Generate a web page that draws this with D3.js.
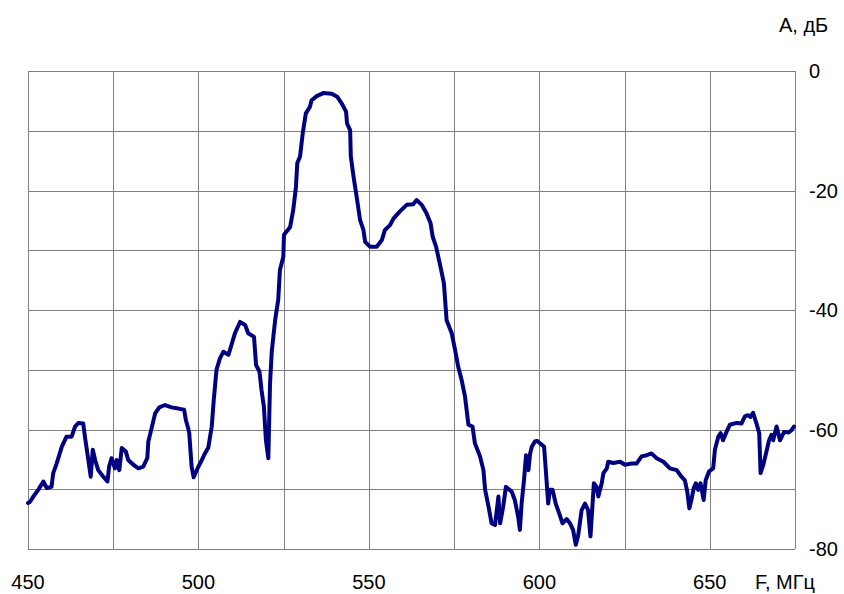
<!DOCTYPE html>
<html>
<head>
<meta charset="utf-8">
<script src="https://cdnjs.cloudflare.com/ajax/libs/d3/7.8.5/d3.min.js"></script>
<style>
  body { margin: 0; background: #fff; }
  svg text { font-family: "Liberation Sans", Arial, sans-serif; fill: #000; }
</style>
</head>
<body>
<svg id="chart"></svg>
<script>
// frequency, MHz
var freq = [450.0, 450.6, 451.6, 453.0, 454.5, 455.5, 456.9, 457.4, 458.4, 459.9, 461.3, 462.8, 463.8, 464.8, 466.2, 466.7,
  467.7, 468.4, 469.0, 469.7, 470.6, 472.1, 473.3, 473.8, 474.5, 475.5, 476.0, 476.8, 477.5, 478.7, 479.4, 480.9,
  482.4, 483.8, 485.0, 485.3, 486.0, 487.3, 488.5, 490.2, 492.1, 494.1, 495.8, 496.3, 497.0, 497.3, 498.0, 498.6,
  500.0, 501.0, 501.9, 502.9, 503.9, 504.5, 505.3, 506.3, 507.3, 508.8, 509.8, 510.7, 512.2, 513.7, 514.6, 516.3,
  516.9, 517.9, 518.5, 519.2, 519.8, 520.5, 521.0, 521.5, 522.5, 523.4, 523.9, 524.9, 525.1, 526.9, 527.8, 528.6,
  529.0, 529.8, 530.6, 531.5, 532.7, 533.2, 534.7, 536.6, 539.1, 540.7, 542.0, 543.3, 543.6, 544.5, 544.7, 545.5,
  546.4, 547.4, 548.4, 548.9, 550.3, 552.3, 553.8, 554.7, 556.2, 557.2, 559.1, 561.1, 563.0, 564.0, 565.5, 566.9,
  568.1, 568.7, 569.7, 570.9, 572.0, 572.8, 574.3, 575.3, 576.2, 577.2, 578.2, 579.2, 580.4, 581.1, 582.6, 583.6,
  584.1, 585.1, 586.0, 587.0, 588.0, 588.5, 589.4, 590.2, 591.9, 592.8, 593.8, 594.3, 594.8, 595.5, 596.1, 596.8,
  597.3, 597.8, 598.7, 599.3, 600.2, 601.4, 601.9, 602.6, 603.1, 603.9, 604.8, 605.8, 606.8, 608.0, 609.0, 609.9,
  610.7, 611.4, 612.4, 613.4, 614.3, 615.0, 615.6, 616.0, 616.8, 617.3, 618.3, 618.8, 619.8, 620.2, 621.7, 623.7,
  625.1, 627.1, 628.5, 630.0, 631.5, 632.9, 634.4, 636.4, 638.3, 640.3, 641.7, 642.7, 643.4, 644.0, 644.6, 645.3,
  645.9, 646.6, 647.3, 648.2, 648.8, 649.8, 651.0, 651.5, 652.5, 653.2, 653.9, 654.9, 655.9, 657.9, 659.3, 660.3,
  661.2, 661.9, 662.7, 663.7, 664.5, 664.9, 665.7, 666.5, 667.4, 668.1, 668.6, 669.6, 670.6, 671.8, 673.1, 674.0,
  674.7];
// attenuation, dB
var level = [-72.3, -72.1, -71.2, -70.1, -68.7, -69.8, -69.6, -67.3, -65.7, -62.9, -61.2, -61.2, -59.5, -58.9, -59.0, -61.2,
  -65.1, -67.9, -63.4, -65.1, -66.8, -67.9, -68.7, -66.2, -64.8, -66.5, -65.1, -66.8, -63.1, -63.7, -65.1, -65.9,
  -66.5, -66.2, -64.8, -62.0, -60.4, -57.3, -56.3, -55.9, -56.3, -56.5, -56.7, -58.4, -59.8, -60.6, -66.2, -68.0,
  -66.2, -65.1, -64.0, -63.0, -59.5, -55.0, -50.0, -48.1, -47.0, -47.5, -45.6, -43.9, -42.0, -42.5, -43.9, -44.5,
  -49.2, -50.3, -53.4, -56.2, -61.8, -64.8, -52.3, -47.0, -41.7, -38.3, -33.3, -31.1, -27.4, -26.1, -23.3, -19.4,
  -15.4, -14.3, -10.4, -7.1, -6.0, -4.9, -4.2, -3.7, -3.8, -4.3, -5.4, -6.8, -8.8, -9.9, -14.3, -17.7,
  -21.0, -24.9, -26.6, -28.6, -29.4, -29.4, -28.3, -26.6, -25.8, -24.7, -23.5, -22.4, -22.3, -21.6, -22.4, -23.8,
  -25.5, -27.7, -29.4, -32.5, -35.5, -41.7, -43.9, -46.7, -49.5, -51.7, -54.5, -59.2, -59.5, -62.3, -64.5, -66.8,
  -70.1, -72.9, -75.7, -76.0, -71.2, -75.7, -72.9, -69.6, -70.4, -71.8, -74.6, -76.8, -72.4, -68.5, -64.3, -66.8,
  -64.0, -62.9, -62.0, -61.9, -62.3, -62.9, -66.8, -72.4, -70.1, -70.1, -72.4, -74.0, -75.7, -75.0, -75.7, -76.8,
  -79.3, -77.7, -73.5, -72.4, -73.5, -77.9, -72.6, -69.0, -69.6, -71.2, -69.0, -67.3, -66.5, -65.4, -65.6, -65.4,
  -65.9, -65.7, -65.7, -64.5, -64.3, -64.0, -64.8, -65.4, -66.5, -66.8, -67.9, -68.5, -70.4, -73.2, -71.8, -69.8,
  -69.0, -70.1, -69.0, -71.8, -68.5, -67.0, -66.5, -63.4, -61.2, -60.6, -61.8, -60.4, -59.2, -58.9, -59.0, -57.8,
  -57.6, -57.9, -57.2, -59.0, -60.6, -67.3, -65.9, -64.0, -61.8, -60.9, -61.8, -59.5, -61.8, -60.4, -60.5, -60.1,
  -59.5];

var xGrid = [450, 475, 500, 525, 550, 575, 600, 625, 650, 675];
var xLabels = [450, 500, 550, 600, 650];
var yGrid = [0, -10, -20, -30, -40, -50, -60, -70, -80];
var yLabels = [0, -20, -40, -60, -80];

var width = 844, height = 594;
var margin = {top: 71, right: 49, bottom: 45, left: 28};

var svg = d3.select('#chart').attr('width', width).attr('height', height);

var x = d3.scaleLinear().domain([450, 675]).range([margin.left, width - margin.right]);
var y = d3.scaleLinear().domain([-80, 0]).range([height - margin.bottom, margin.top]);

// grid
var grid = svg.append('g').attr('shape-rendering', 'crispEdges');
grid.selectAll('line.vx')
  .data(xGrid)
  .enter()
  .append('line')
  .attr('x1', d => Math.round(x(d)) + 0.5)
  .attr('x2', d => Math.round(x(d)) + 0.5)
  .attr('y1', y(0))
  .attr('y2', y(-80))
  .attr('stroke', '#808080')
  .attr('stroke-width', 1);

grid.selectAll('line.hy')
  .data(yGrid)
  .enter()
  .append('line')
  .attr('x1', x(450))
  .attr('x2', x(675))
  .attr('y1', d => Math.round(y(d)) + 0.5)
  .attr('y2', d => Math.round(y(d)) + 0.5)
  .attr('stroke', '#808080')
  .attr('stroke-width', 1);

// curve
var line = d3.line()
  .x((d, i) => x(freq[i]))
  .y(d => y(d));

svg.append('path')
  .datum(level)
  .attr('d', line)
  .attr('fill', 'none')
  .attr('stroke', '#000080')
  .attr('stroke-width', 4)
  .attr('stroke-linejoin', 'round')
  .attr('stroke-linecap', 'round');

// labels
svg.selectAll('text.xl')
  .data(xLabels)
  .enter()
  .append('text')
  .attr('x', d => x(d))
  .attr('y', 589)
  .attr('text-anchor', 'middle')
  .style('font-size', '20px')
  .text(d => d);

svg.selectAll('text.yl')
  .data(yLabels)
  .enter()
  .append('text')
  .attr('x', 809)
  .attr('y', d => y(d) + 7)
  .style('font-size', '20px')
  .text(d => d);

svg.append('text')
  .attr('x', 755)
  .attr('y', 589)
  .style('font-size', '20px')
  .text('F, МГц');

svg.append('text')
  .attr('x', 779)
  .attr('y', 32)
  .style('font-size', '20px')
  .text('А, дБ');
</script>
</body>
</html>
